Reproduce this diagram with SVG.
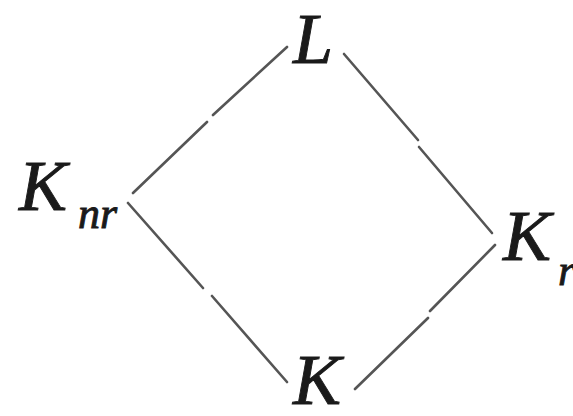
<svg xmlns="http://www.w3.org/2000/svg" width="573" height="416" viewBox="0 0 573 416">
<style>
.lbl{font-family:"Liberation Serif","Times New Roman",serif;font-style:italic;fill:#1a1a1a;stroke:#1a1a1a;stroke-width:0.9}
.big{font-size:72px}
.sub{font-size:44px}
.edge{stroke:#555;stroke-width:2.6;fill:none;stroke-linecap:round}
</style>
<rect width="573" height="416" fill="#fff"/>
<g id="connectors">
<path class="edge" d="M287,47 L213,115 M207,122 L133,193"/>
<path class="edge" d="M344,54 L418,140 M419,147 L492,233"/>
<path class="edge" d="M128,203 L203,288 M212,296 L287,382"/>
<path class="edge" d="M495,245 L430,311 M428,318 L355,389"/>
</g>
<g id="node-L"><text class="lbl big" x="293" y="63">L</text></g>
<g id="node-Knr"><text class="lbl big" x="19" y="210">K</text><text class="lbl sub" x="78" y="228">nr</text></g>
<g id="node-Kr"><text class="lbl big" x="503" y="260">K</text><text class="lbl sub" x="558" y="285">r</text></g>
<g id="node-K"><text class="lbl big" x="293" y="404">K</text></g>
</svg>
